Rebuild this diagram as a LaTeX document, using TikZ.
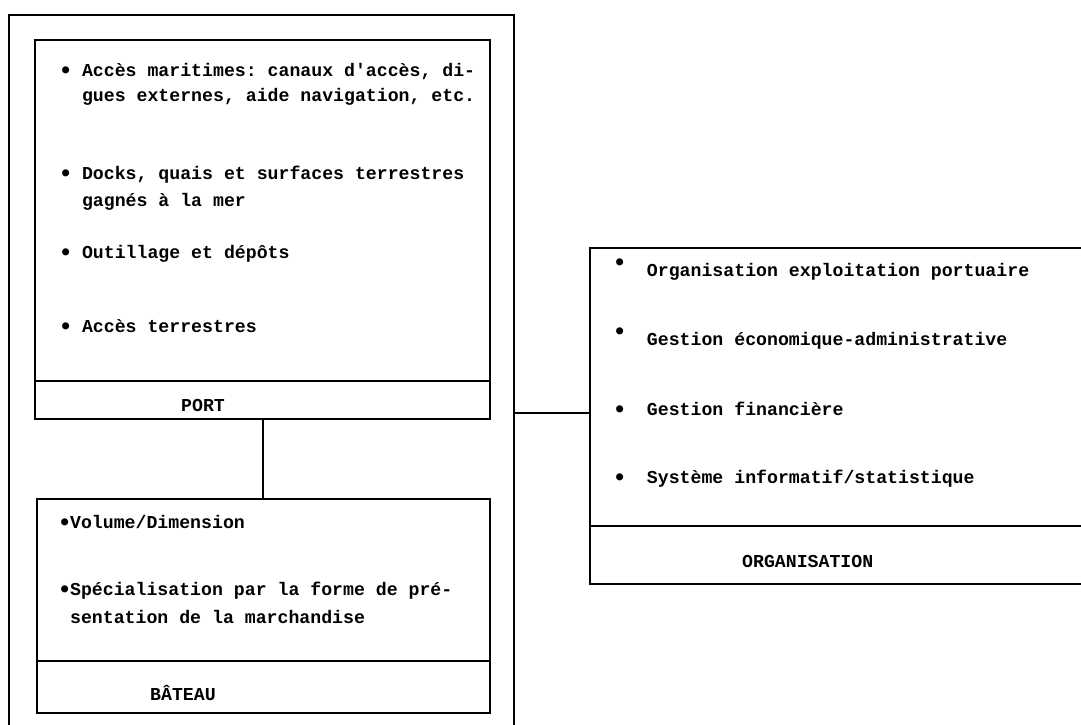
\documentclass[tikz,border=0pt]{standalone}
\usepackage{fontspec}
\setmonofont{Liberation Mono}
\newcommand{\bul}{\makebox[0.6em]{\raisebox{-0.12em}{\scalebox{1.35}{•}}}}
\begin{document}
\begin{tikzpicture}[x=1pt,y=-1pt,
  box/.style={draw, line width=2.2pt, inner sep=0pt, anchor=north west},
  txt/.style={anchor=base west, inner sep=0pt, font=\ttfamily\bfseries\fontsize{18.2}{22}\selectfont},
  link/.style={line width=2.2pt}]
\clip (0,0) rectangle (1081,725);
\fill[white] (0,0) rectangle (1081,725);
% outer frame (open at the bottom of the picture)
\node[box, minimum width=505pt, minimum height=760pt] (outer) at (8,14) {};
% PORT
\node[box, minimum width=455pt, minimum height=341pt] (portbody) at (34,39) {};
\node[box, minimum width=455pt, minimum height=38pt] (portlabel) at (34,380) {};
% BATEAU
\node[box, minimum width=453pt, minimum height=162pt] (batbody) at (36,498) {};
\node[box, minimum width=453pt, minimum height=52pt] (batlabel) at (36,660) {};
% ORGANISATION (runs off the right edge)
\node[box, minimum width=530pt, minimum height=278pt] (orgbody) at (589,247) {};
\node[box, minimum width=530pt, minimum height=58pt] (orglabel) at (589,525) {};
% connectors
\draw[link] (portlabel.south -| 263,0) -- (batbody.north -| 263,0);
\draw[link] (outer.east |- 0,413) -- (orgbody.west |- 0,413);
% PORT texts
\node[txt] (p1a) at (60,76) {\bul{} Accès maritimes: canaux d'accès, di-};
\node[txt] (p1b) at (60,101) {\phantom{\bul{} }gues externes, aide navigation, etc.};
\node[txt] (p2a) at (60,179) {\bul{} Docks, quais et surfaces terrestres};
\node[txt] (p2b) at (60,206) {\phantom{\bul{} }gagnés à la mer};
\node[txt] (p3) at (60,258) {\bul{} Outillage et dépôts};
\node[txt] (p4) at (60,332) {\bul{} Accès terrestres};
\node[txt] (portname) at (181,411) {PORT};
% BATEAU texts
\node[txt] (b1) at (59,528) {\bul{}Volume/Dimension};
\node[txt] (b2a) at (59,595) {\bul{}Spécialisation par la forme de pré-};
\node[txt] (b2b) at (59,623) {\phantom{\bul{}}sentation de la marchandise};
\node[txt] (batname) at (150,700) {BÂTEAU};
% ORGANISATION texts
\node[txt] (o1) at (614,276) {\raisebox{8pt}{\bul}\ \ Organisation exploitation portuaire};
\node[txt] (o2) at (614,345) {\raisebox{8pt}{\bul}\ \ Gestion économique-administrative};
\node[txt] (o3) at (614,415) {\bul\ \ Gestion financière};
\node[txt] (o4) at (614,483) {\bul\ \ Système informatif/statistique};
\node[txt] (orgname) at (742,567) {ORGANISATION};
\end{tikzpicture}
\end{document}
